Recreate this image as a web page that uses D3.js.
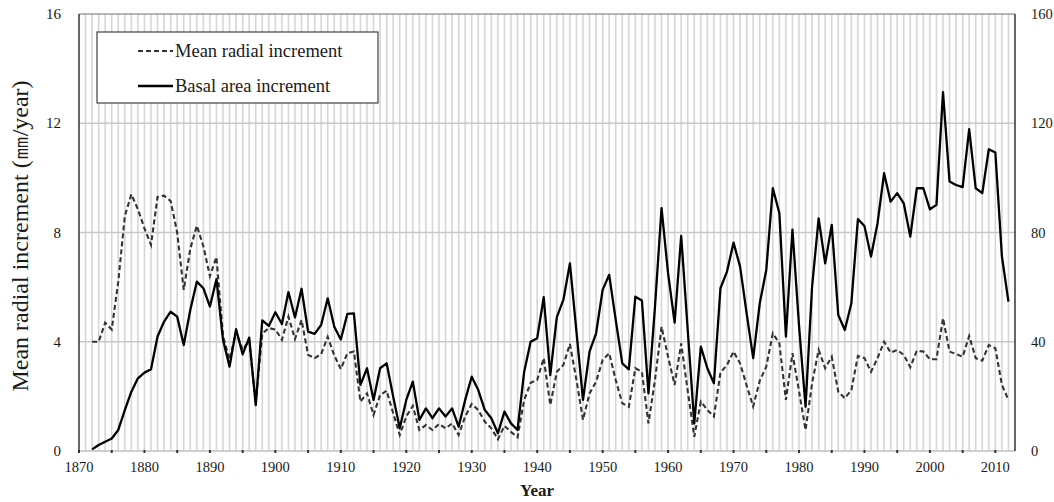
<!DOCTYPE html>
<html>
<head>
<meta charset="utf-8">
<script src="https://d3js.org/d3.v7.min.js"></script>
<style>
  body { margin: 0; background: #fff; }
  text { font-family: "Liberation Serif", "Times New Roman", serif; fill: #1a1a1a; }
</style>
</head>
<body>
<div id="chart"></div>
<script>
// years of the record
const firstYear = 1872;
const lastYear = 2012;

// mean radial increment, mm/year (left axis)
const radialIncrement = [
  4.0, 4.0, 4.7, 4.45, 6.2, 8.6, 9.4, 8.85, 8.15, 7.55,      // 1872-1881
  9.3, 9.35, 9.15, 8.0, 5.9, 7.4, 8.25, 7.5, 6.4, 7.1,       // 1882-1891
  4.2, 3.35, 4.35, 3.7, 4.05, 1.75, 4.3, 4.5, 4.45, 4.07,    // 1892-1901
  4.92, 4.1, 4.8, 3.52, 3.4, 3.55, 4.18, 3.5, 3.0, 3.58,     // 1902-1911
  3.64, 1.81, 2.11, 1.32, 2.05, 2.21, 1.38, 0.59, 1.26, 1.65, // 1912-1921
  0.77, 0.95, 0.77, 0.99, 0.83, 1.01, 0.59, 1.26, 1.72, 1.5, // 1922-1931
  1.07, 0.83, 0.43, 0.92, 0.7, 0.5, 1.85, 2.5, 2.6, 3.4,     // 1932-1941
  1.68, 2.9, 3.15, 3.92, 2.6, 1.14, 2.11, 2.54, 3.33, 3.58,  // 1942-1951
  2.6, 1.75, 1.62, 3.03, 2.9, 1.01, 2.6, 4.55, 3.45, 2.42,   // 1952-1961
  3.94, 2.2, 0.52, 1.81, 1.5, 1.26, 2.87, 3.15, 3.64, 3.21,  // 1962-1971
  2.4, 1.63, 2.57, 3.09, 4.31, 3.94, 1.87, 3.58, 2.2, 0.77,  // 1972-1981
  2.48, 3.7, 3.03, 3.45, 2.17, 1.93, 2.23, 3.48, 3.4, 2.9,   // 1982-1991
  3.4, 4.0, 3.6, 3.7, 3.52, 3.07, 3.67, 3.64, 3.36, 3.36,    // 1992-2001
  4.86, 3.64, 3.55, 3.45, 4.21, 3.4, 3.31, 3.88, 3.76, 2.42, // 2002-2011
  1.87                                                       // 2012
];

// basal area increment (right axis)
const basalIncrement = [
  0.6, 2.2, 3.4, 4.6, 7.7, 15, 21.7, 26.6, 28.7, 29.9,       // 1872-1881
  41.9, 47.4, 51, 49.2, 38.8, 51.6, 62, 59.6, 52.9, 62.9,    // 1882-1891
  40.7, 30.9, 44.6, 35.4, 41.5, 16.8, 47.8, 45.8, 50.8, 46.5, // 1892-1901
  58.2, 48.9, 59.4, 43.7, 42.9, 46.2, 55.9, 45.5, 40.8, 50.2, // 1902-1911
  50.4, 24.2, 30.3, 18.7, 30.3, 32.1, 19.9, 8.3, 18.7, 25.4, // 1912-1921
  11.4, 15.6, 12, 15.6, 12.6, 15.6, 8.9, 18.7, 27.2, 22.3,   // 1922-1931
  15, 12, 6.5, 14.4, 10.1, 7.7, 28.8, 40, 41.3, 56.3,        // 1932-1941
  27.8, 49, 55.3, 68.7, 43.7, 18.7, 36.4, 43.1, 59, 64.5,    // 1942-1951
  48, 32.1, 29.9, 56.5, 55.1, 21.1, 52.9, 88.9, 65, 47,      // 1952-1961
  78.8, 44.3, 10.1, 38.2, 30.3, 24.8, 59.6, 65.7, 76.3, 67.5, // 1962-1971
  50.4, 34, 54, 66.3, 96.2, 87.1, 41.9, 81, 46, 16.2,        // 1972-1981
  60.2, 85.2, 68.7, 82.8, 49.8, 44.3, 54.1, 84.9, 82.4, 71.2, // 1982-1991
  83.4, 101.7, 91.3, 94.4, 90.7, 78.5, 96.2, 96.2, 88.5, 90.1, // 1992-2001
  131.4, 98.7, 97.4, 96.6, 117.8, 96.2, 94.4, 110.5, 109.3, 71.2, // 2002-2011
  54.7                                                       // 2012
];

const leftTicks = [0, 4, 8, 12, 16];
const rightTicks = [0, 40, 80, 120, 160];
const yearLabels = d3.range(1870, 2011, 10);

const seriesNames = ["Mean radial increment", "Basal area increment"];

// size of picture
const width = 1054;
const height = 502;
const margin = { top: 14, right: 39, bottom: 51, left: 79 };

const years = d3.range(firstYear, lastYear + 1);

const x = d3.scaleLinear()
  .domain([1870, 2013])
  .range([margin.left, width - margin.right]);

const yLeft = d3.scaleLinear()
  .domain([0, 16])
  .range([height - margin.bottom, margin.top]);

const yRight = d3.scaleLinear()
  .domain([0, 160])
  .range([height - margin.bottom, margin.top]);

const svg = d3.select("#chart")
  .append("svg")
  .attr("width", width)
  .attr("height", height);

svg.append("rect")
  .attr("width", width)
  .attr("height", height)
  .attr("fill", "#fff");

// vertical grid, one line per year
svg.append("g")
  .selectAll("line")
  .data(d3.range(1871, 2013))
  .enter().append("line")
    .attr("x1", d => x(d)).attr("x2", d => x(d))
    .attr("y1", yLeft(16)).attr("y2", yLeft(0))
    .attr("stroke", "#d6d6d6")
    .attr("stroke-width", 1.6);

// horizontal grid
svg.append("g")
  .selectAll("line")
  .data(leftTicks.slice(1, -1))
  .enter().append("line")
    .attr("x1", x(1870)).attr("x2", x(2013))
    .attr("y1", d => yLeft(d)).attr("y2", d => yLeft(d))
    .attr("stroke", "#c8c8c8")
    .attr("stroke-width", 1.6);

// frame
svg.append("line")
  .attr("x1", x(1870)).attr("x2", x(2013))
  .attr("y1", yLeft(16)).attr("y2", yLeft(16))
  .attr("stroke", "#707070").attr("stroke-width", 1.2);
svg.append("line")
  .attr("x1", x(1870)).attr("x2", x(2013))
  .attr("y1", yLeft(0)).attr("y2", yLeft(0))
  .attr("stroke", "#c0c0c0").attr("stroke-width", 1.5);
svg.append("line")
  .attr("x1", x(1870)).attr("x2", x(1870))
  .attr("y1", yLeft(16)).attr("y2", yLeft(0))
  .attr("stroke", "#333").attr("stroke-width", 1.5);
svg.append("line")
  .attr("x1", x(2013)).attr("x2", x(2013))
  .attr("y1", yLeft(16)).attr("y2", yLeft(0))
  .attr("stroke", "#333").attr("stroke-width", 1.5);

// small tick marks every 5 years
svg.append("g")
  .selectAll("rect")
  .data(d3.range(1870, 2013, 5))
  .enter().append("rect")
    .attr("x", d => x(d) - 1)
    .attr("y", yLeft(0) - 1)
    .attr("width", 2)
    .attr("height", 3)
    .attr("fill", "#333");

// year labels
svg.append("g")
  .selectAll("text")
  .data(yearLabels)
  .enter().append("text")
    .attr("x", d => x(d))
    .attr("y", yLeft(0) + 21)
    .attr("text-anchor", "middle")
    .attr("font-size", 14.5)
    .text(d => d);

// left tick labels
svg.append("g")
  .selectAll("text")
  .data(leftTicks)
  .enter().append("text")
    .attr("x", 61)
    .attr("y", d => yLeft(d) + 5)
    .attr("text-anchor", "end")
    .attr("font-size", 15)
    .text(d => d);

// right tick labels, squeezed in against the edge
svg.append("g")
  .selectAll("text")
  .data(rightTicks)
  .enter().append("text")
    .attr("x", 1031)
    .attr("y", d => yRight(d) + 5)
    .attr("text-anchor", "start")
    .attr("font-size", 14.5)
    .text(d => d);

// axis titles
svg.append("text")
  .attr("transform", "translate(28," + 236 + ") rotate(-90)")
  .attr("text-anchor", "middle")
  .attr("font-size", 24)
  .text("Mean radial increment (\u339C/year)");

svg.append("text")
  .attr("x", 537)
  .attr("y", 496)
  .attr("text-anchor", "middle")
  .attr("font-size", 17)
  .attr("font-weight", "bold")
  .text("Year");

// the two series
const lineLeft = d3.line()
  .x((d, i) => x(years[i]))
  .y(d => yLeft(d));

const lineRight = d3.line()
  .x((d, i) => x(years[i]))
  .y(d => yRight(d));

svg.append("path")
  .datum(radialIncrement)
  .attr("fill", "none")
  .attr("stroke", "#333")
  .attr("stroke-width", 2.1)
  .attr("stroke-dasharray", "5,3")
  .attr("d", lineLeft);

svg.append("path")
  .datum(basalIncrement)
  .attr("fill", "none")
  .attr("stroke", "#000")
  .attr("stroke-width", 2.3)
  .attr("stroke-linejoin", "round")
  .attr("d", lineRight);

// legend
const legend = svg.append("g");
legend.append("rect")
  .attr("x", 97).attr("y", 32)
  .attr("width", 281).attr("height", 71)
  .attr("fill", "#fff")
  .attr("stroke", "#404040")
  .attr("stroke-width", 1.2);

legend.append("line")
  .attr("x1", 138).attr("x2", 173)
  .attr("y1", 51).attr("y2", 51)
  .attr("stroke", "#333").attr("stroke-width", 2.1)
  .attr("stroke-dasharray", "5,3");
legend.append("line")
  .attr("x1", 138).attr("x2", 173)
  .attr("y1", 86).attr("y2", 86)
  .attr("stroke", "#000").attr("stroke-width", 2.3);

legend.selectAll("text.lab")
  .data(seriesNames)
  .enter().append("text")
    .attr("x", 175)
    .attr("y", (d, i) => 57 + i * 35)
    .attr("font-size", 18.5)
    .text(d => d);
</script>
</body>
</html>
